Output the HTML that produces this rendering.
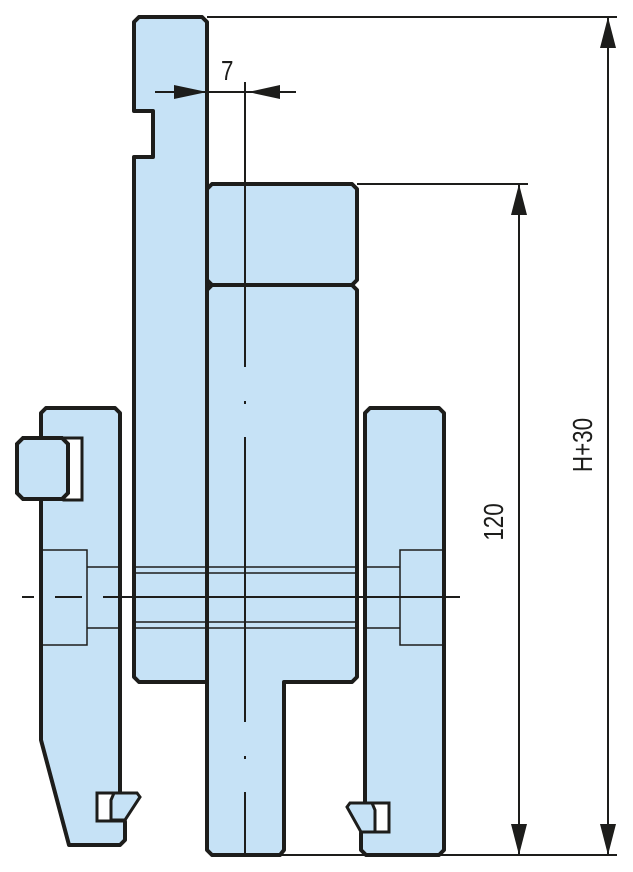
<!DOCTYPE html>
<html><head><style>body{margin:0;background:#fff}svg{display:block}</style></head><body>
<svg width="633" height="872" viewBox="0 0 633 872" xmlns="http://www.w3.org/2000/svg">
<g fill="#c6e2f6" stroke="#1d1d1b" stroke-width="4" stroke-linejoin="round">
<path d="M139 17 H202 L207 22 V682 H139 L134 677 V157 H153 V111 H134 V22 Z"/>
<path d="M46 408 H115 L120 413 V792 L125 822 V840 L120 845 H69 L41 740 V413 Z"/>
<path d="M212 184 H352 L357 189 V280 L352 285 H212 L207 280 V189 Z"/>
<path d="M212 285 H352 L357 290 V677 L352 682 H284 V850 L280 855 H212 L207 850 V290 Z"/>
<path d="M370 408 H439 L444 413 V850 L439 855 H366 L361 850 V833 L365 803 V413 Z"/>
</g>
<rect x="64" y="438" width="18" height="62" fill="#fff" stroke="#1d1d1b" stroke-width="3"/>
<path d="M23 438 H62 L68 444 V493 L62 499 H23 L17 493 V444 Z" fill="#c6e2f6" stroke="#1d1d1b" stroke-width="4"/>
<rect x="97" y="793" width="28" height="28" fill="#fff" stroke="#1d1d1b" stroke-width="3"/>
<path d="M114 793 H137 L140 797 L125 820 H111 V800 Z" fill="#c6e2f6" stroke="#1d1d1b" stroke-width="3"/>
<rect x="361" y="803" width="28" height="29" fill="#fff" stroke="#1d1d1b" stroke-width="3"/>
<path d="M372 803 H350 L347 807 L361 832 H375 V810 Z" fill="#c6e2f6" stroke="#1d1d1b" stroke-width="3"/>
<g stroke="#1d1d1b" stroke-width="1.5" fill="none">
<path d="M41 550 H87 V645 H41 M87 567 H120 M87 628 H120"/>
<path d="M444 550 H400 V645 H444 M400 567 H366 M400 628 H366"/>
<path d="M136 567 H356 M136 573 H356 M136 622 H356 M136 628 H356"/>
</g>
<g stroke="#1d1d1b" stroke-width="2" fill="none">
<path d="M22 597 H34 M55 597 H82 M103 597 H460"/>
<path d="M245 82 V367 M245 401 V404 M245 437 V722 M245 756 V759 M245 792 V855"/>
</g>
<g stroke="#1d1d1b" stroke-width="2" fill="none">
<path d="M207 17 H617 M357 184 H528 M280 855 H617"/>
<path d="M608 17 V855 M519 184 V855"/>
<path d="M155 92 H207 M207 92 H245 M245 92 H296"/>
</g>
<g fill="#1d1d1b">
<path d="M207 92 L174 85 V99 Z"/>
<path d="M248 92 L280 85 V99 Z"/>
<path d="M608 17 L600 48 H616 Z"/>
<path d="M608 855 L600 824 H616 Z"/>
<path d="M519 184 L511 215 H527 Z"/>
<path d="M519 855 L511 824 H527 Z"/>
</g>
<g font-family="Liberation Sans, sans-serif" font-size="28" fill="#1d1d1b">
<text transform="translate(221 80) scale(0.8 1)">7</text>
<text transform="translate(503 522) rotate(-90) scale(0.8 1)" text-anchor="middle">120</text>
<text transform="translate(592 445) rotate(-90) scale(0.8 1)" text-anchor="middle">H+30</text>
</g>
</svg>
</body></html>
